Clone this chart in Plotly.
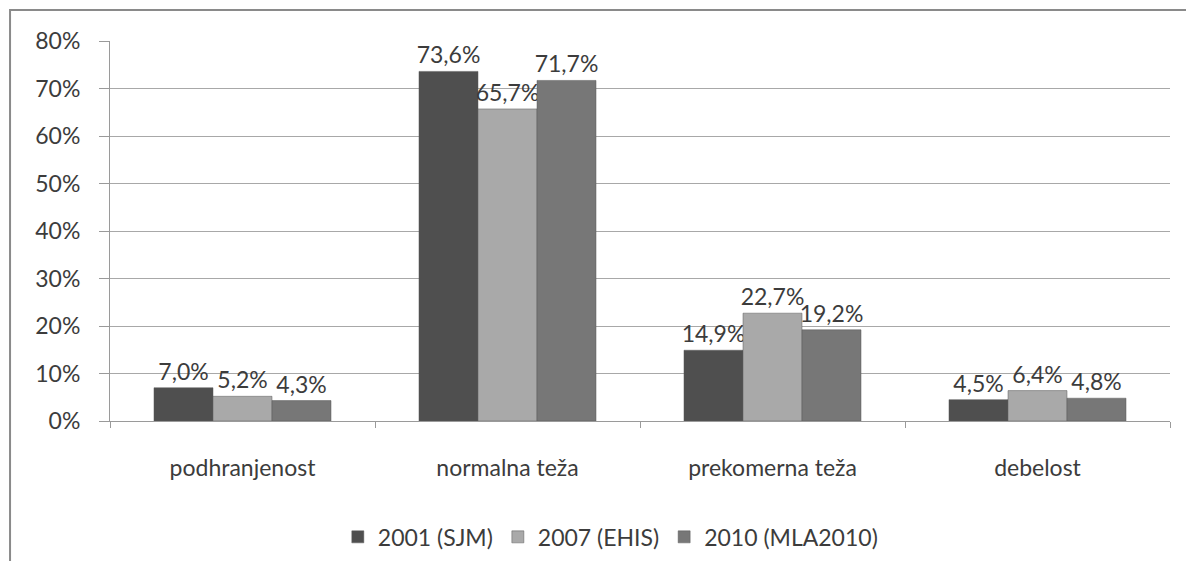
import plotly.graph_objects as go

# data
categories = ["podhranjenost", "normalna teža", "prekomerna teža", "debelost"]
series_names = ["2001 (SJM)", "2007 (EHIS)", "2010 (MLA2010)"]
v2001 = [7.0, 73.6, 14.9, 4.5]
v2007 = [5.2, 65.7, 22.7, 6.4]
v2010 = [4.3, 71.7, 19.2, 4.8]
tick_vals = [0, 10, 20, 30, 40, 50, 60, 70, 80]
tick_text = ["0%", "10%", "20%", "30%", "40%", "50%", "60%", "70%", "80%"]

colors = ["#4f4f4f", "#a9a9a9", "#777777"]
font_family = "Lato, 'Open Sans', sans-serif"
txt_color = "#3c3c3c"
fs = 23


def fmt(v):
    return ("%.1f%%" % v).replace(".", ",")


fig = go.Figure()
for name, vals, col in zip(series_names, [v2001, v2007, v2010], colors):
    fig.add_trace(go.Bar(x=categories, y=vals, name=name,
                         marker=dict(color=col, line=dict(color="#5a5a5a", width=0.5)),
                         text=[fmt(v) for v in vals],
                         textposition="outside",
                         constraintext="none",
                         cliponaxis=False,
                         textfont=dict(size=fs, color=txt_color, family=font_family)))

# outer chart-area border (runs off the right and bottom edge like the picture)
fig.add_shape(type="rect", xref="paper", yref="paper",
              x0=-0.0943, y0=-0.6, x1=1.2, y1=1.0816,
              line=dict(color="#8a8a8a", width=2), layer="below")

# page body has an 8px margin, so the figure is shifted by 8px
fig.update_layout(
    width=1186, height=553,
    margin=dict(l=102, r=24, t=33, b=140, autoexpand=False),
    paper_bgcolor="white", plot_bgcolor="white",
    barmode="group", bargap=0.332, bargroupgap=0,
    font=dict(family=font_family, size=fs, color=txt_color),
    showlegend=True,
    legend=dict(orientation="h", x=0.472, xanchor="center", y=-0.305, yanchor="middle",
                font=dict(size=fs, color=txt_color), itemwidth=30,
                traceorder="normal"),
    xaxis=dict(showline=True, linecolor="#9a9a9a", linewidth=1,
               ticks="outside", tickson="boundaries", ticklen=6, tickcolor="#9a9a9a",
               ticklabelstandoff=26,
               tickfont=dict(size=fs, color=txt_color), showgrid=False),
    yaxis=dict(range=[0, 80], tickvals=tick_vals, ticktext=tick_text,
               showline=True, linecolor="#9a9a9a", linewidth=1,
               ticks="outside", ticklen=10, tickcolor="#9a9a9a",
               ticklabelstandoff=14,
               showgrid=True, gridcolor="#a8a8a8", gridwidth=1,
               tickfont=dict(size=fs, color=txt_color), zeroline=False),
)

fig.write_html("out.html")
